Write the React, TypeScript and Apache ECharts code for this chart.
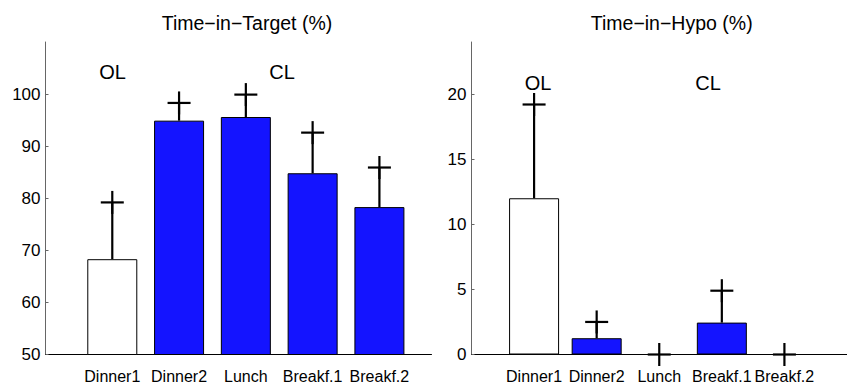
import React, { useEffect, useRef } from 'react';
import * as echarts from 'echarts';

const categories = ['Dinner1', 'Dinner2', 'Lunch', 'Breakf.1', 'Breakf.2'];
const groupLabels = ['OL', 'CL'];
const titles = ['Time\u2212in\u2212Target (%)', 'Time\u2212in\u2212Hypo (%)'];
const targetMeans = [68.3, 94.9, 95.6, 84.8, 78.3];
const targetUpper = [79.2, 98.3, 99.9, 92.6, 85.9];
const hypoMeans = [12.0, 1.25, 0, 2.45, 0];
const hypoUpper = [19.2, 2.5, 0, 4.9, 0];
const barColors = ['#ffffff', '#1414ff', '#1414ff', '#1414ff', '#1414ff'];

const FONT = 'Liberation Sans, Arial, Helvetica, sans-serif';

function errRender(params: any, api: any) {
  const x = api.value(0);
  const lo = api.value(1);
  const hi = api.value(2);
  const pLo = api.coord([x, lo]);
  const pHi = api.coord([x, hi]);
  const h = 11.5;
  const style = { stroke: '#000', lineWidth: 2.2 };
  return {
    type: 'group',
    children: [
      { type: 'line', shape: { x1: pLo[0], y1: pLo[1], x2: pHi[0], y2: pHi[1] }, style },
      { type: 'line', shape: { x1: pHi[0] - h, y1: pHi[1], x2: pHi[0] + h, y2: pHi[1] }, style },
      { type: 'line', shape: { x1: pHi[0], y1: pHi[1] - h, x2: pHi[0], y2: pHi[1] + h }, style },
    ],
  };
}

function xAxisCfg(gridIndex: number, max: number) {
  return {
    type: 'value',
    gridIndex,
    min: 0,
    max,
    interval: 1,
    axisLine: { show: true, lineStyle: { color: '#000', width: 1 } },
    axisTick: { show: false },
    splitLine: { show: false },
    axisLabel: {
      show: true,
      fontSize: 16,
      fontFamily: FONT,
      color: '#000',
      margin: 14,
      showMaxLabel: false,
      formatter: (v: number) => (Number.isInteger(v) && v >= 1 && v <= categories.length ? categories[v - 1] : ''),
    },
  };
}

function yAxisCfg(gridIndex: number, min: number, max: number, interval: number) {
  return {
    type: 'value',
    gridIndex,
    min,
    max,
    interval,
    axisLine: { show: true, lineStyle: { color: '#666', width: 1 } },
    axisTick: { show: true, inside: true, length: 3, lineStyle: { color: '#666' } },
    splitLine: { show: false },
    axisLabel: {
      fontSize: 17,
      fontFamily: FONT,
      color: '#000',
      margin: 5,
      showMaxLabel: false,
    },
  };
}

function barSeries(idx: number, means: number[]) {
  return {
    type: 'bar',
    xAxisIndex: idx,
    yAxisIndex: idx,
    barWidth: 50,
    data: means.map((m, i) => ({ value: [i + 1, m], itemStyle: { color: barColors[i] } })),
    itemStyle: { borderColor: '#000', borderWidth: 1 },
    z: 2,
  };
}

function errSeries(idx: number, means: number[], upper: number[]) {
  return {
    type: 'custom',
    xAxisIndex: idx,
    yAxisIndex: idx,
    renderItem: errRender,
    encode: { x: 0, y: [1, 2] },
    data: means.map((m, i) => [i + 1, m, upper[i]]),
    z: 5,
    clip: false,
  };
}

function txt(text: string, x: number, y: number, size: number) {
  return {
    type: 'text',
    x,
    y,
    style: {
      text,
      fill: '#000',
      font: `${size}px ${FONT}`,
      align: 'center',
      verticalAlign: 'middle',
    },
  };
}

export default function App() {
  const ref = useRef<HTMLDivElement>(null);
  useEffect(() => {
    if (!ref.current) return;
    const chart = echarts.init(ref.current, null, { renderer: 'svg' });
    chart.setOption({
      animation: false,
      backgroundColor: '#ffffff',
      grid: [
        { left: 45.5, top: 42, width: 386, height: 312.5 },
        { left: 471.5, top: 42, width: 400.8, height: 312.5 },
      ],
      xAxis: [xAxisCfg(0, 5.78), xAxisCfg(1, 6)],
      yAxis: [yAxisCfg(0, 50, 110, 10), yAxisCfg(1, 0, 24, 5)],
      series: [
        barSeries(0, targetMeans),
        errSeries(0, targetMeans, targetUpper),
        barSeries(1, hypoMeans),
        errSeries(1, hypoMeans, hypoUpper),
      ],
      graphic: [
        txt(titles[0], 247, 23, 19.5),
        txt(titles[1], 671.7, 23, 19.5),
        txt(groupLabels[0], 112.5, 72, 20),
        txt(groupLabels[1], 282, 72, 20),
        txt(groupLabels[0], 538, 82.5, 20),
        txt(groupLabels[1], 708, 82.5, 20),
      ],
    });
    return () => chart.dispose();
  }, []);
  return (
    <div
      ref={ref}
      style={{ position: 'fixed', left: 0, top: 0, width: 847, height: 385, background: '#fff' }}
    />
  );
}
